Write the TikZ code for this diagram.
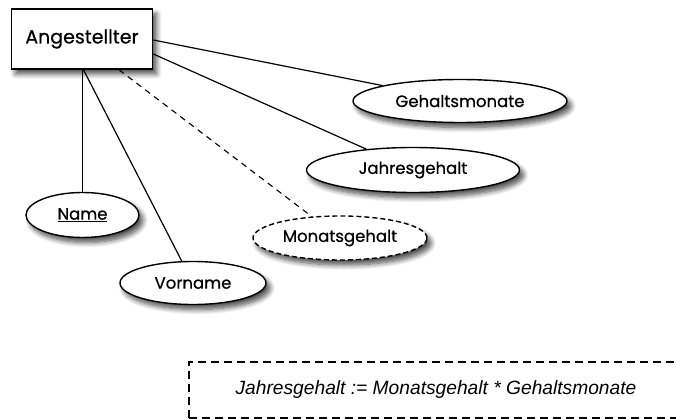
\documentclass[tikz,border=0pt]{standalone}
\usepackage{fontspec}
\setmainfont{Liberation Sans}
\newfontfamily\futfont{Poppins}[BoldFont=Poppins, BoldFeatures={FakeBold=0.6}]
\usetikzlibrary{shapes.geometric,shadows.blur}
\tikzset{
  shad/.style={blur shadow={shadow xshift=4pt, shadow yshift=-5pt, shadow blur radius=5pt, shadow blur steps=8, shadow opacity=70}},
  entity/.style={draw, line width=1.6pt, fill=white, shad, minimum width=141pt, minimum height=60pt, inner sep=0pt, font=\futfont\bfseries\fontsize{19}{21}\selectfont},
  attr/.style={draw, ellipse, line width=1.4pt, fill=white, shad, inner sep=0pt, font=\futfont\bfseries\fontsize{16.5}{18}\selectfont},
  derived/.style={attr, dash pattern=on 5pt off 3pt},
  conn/.style={line width=1.2pt},
  dconn/.style={line width=1.1pt, dash pattern=on 6pt off 5pt},
  note/.style={draw, line width=1.1pt, dash pattern=on 8pt off 5pt, minimum width=494pt, minimum height=56pt, inner sep=0pt, font=\fontsize{19.2}{21}\selectfont\itshape}
}
\begin{document}
\begin{tikzpicture}[x=1pt,y=-1pt]
\useasboundingbox (0,0) rectangle (676,419);
\clip (0,0) rectangle (676,419);
\node[entity] (ang) at (82,39) {Angestellter};
\node[attr, minimum width=214pt, minimum height=43pt] (geh) at (460,101) {Gehaltsmonate};
\node[attr, minimum width=213pt, minimum height=45pt] (jah) at (413,170) {Jahresgehalt};
\node[derived, minimum width=174pt, minimum height=44pt] (mon) at (340,238) {Monatsgehalt};
\node[attr, minimum width=113pt, minimum height=45pt] (name) at (82.5,215) {\underline{Name}};
\node[attr, minimum width=146pt, minimum height=43pt] (vor) at (193,283) {Vorname};
\node[note] (formel) at (436,390) {Jahresgehalt := Monatsgehalt * Gehaltsmonate};
\draw[conn] ([yshift=-1pt]ang.east) -- (geh);
\draw[conn] ([yshift=-15pt]ang.east) -- (jah);
\draw[dconn] ([xshift=37pt]ang.south) -- (mon);
\draw[conn] ([xshift=0.5pt]ang.south) -- (name);
\draw[conn] ([xshift=1.5pt]ang.south) -- (vor);
\end{tikzpicture}
\end{document}
